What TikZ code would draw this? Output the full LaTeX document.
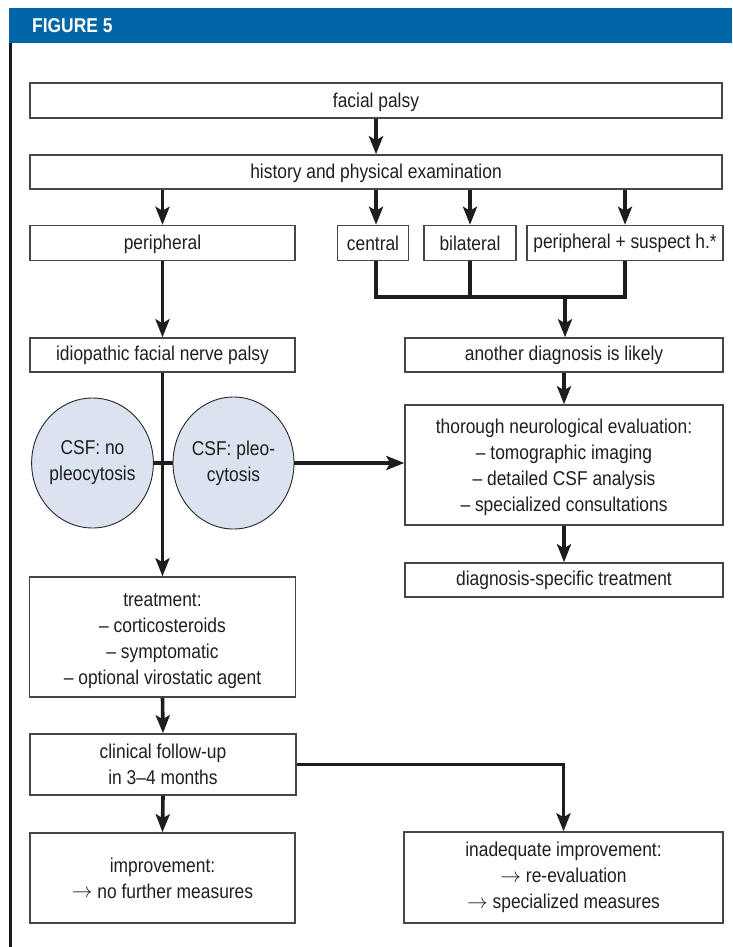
\documentclass[tikz,border=0pt]{standalone}
\usepackage{fontspec}
\usetikzlibrary{shapes.geometric,arrows.meta}
\newfontfamily\mainf[FakeStretch=0.87,Ligatures=TeX]{Liberation Sans}
\newfontfamily\mainfb[FakeStretch=0.87]{Liberation Sans Bold}
\definecolor{hdrblue}{RGB}{0,102,168}
\definecolor{ellfill}{RGB}{219,227,240}
\definecolor{linecol}{RGB}{30,28,30}
\newcommand{\rarr}{\raisebox{0.5pt}{$\rightarrow$}}
\newcommand{\mlines}[2][0pt]{\raisebox{#1}[\height][\depth]{\begin{tabular}{@{}c@{}}#2\end{tabular}}}
\begin{document}
\begin{tikzpicture}[x=1pt,y=-1pt,
  box/.style={draw=black!72,line width=1.5pt,inner sep=0pt,align=center,
    font=\mainf\fontsize{20}{26}\selectfont,text=black!88},
  ell/.style={ellipse,draw=black!85,line width=0.9pt,fill=ellfill,inner sep=0pt,align=center,
    font=\mainf\fontsize{20}{26}\selectfont,text=black!88},
  ln/.style={draw=linecol,line width=3.6pt,line join=miter},
  arr/.style={ln,-{Stealth[length=18pt,width=14pt,inset=4pt]}}]
\useasboundingbox (0,0) rectangle (732,947);
\fill[white] (0,0) rectangle (732,947);
% header
\fill[hdrblue] (9,8) rectangle (732,43);
\node[anchor=west,inner sep=0pt,text=white,font=\mainfb\fontsize{20}{24}\selectfont] (title) at (32,26) {FIGURE 5};
\draw[black!90,line width=2.6pt] (10.3,43) -- (10.3,947);
% boxes
\node[box,minimum width=692pt,minimum height=35pt] (fp) at (376,100.5) {\mlines[-1.5pt]{facial palsy}};
\node[box,minimum width=692pt,minimum height=34pt] (hist) at (376,172) {\mlines[-1pt]{history and physical examination}};
\node[box,minimum width=265pt,minimum height=35pt] (periph) at (162.5,243) {\mlines[-1pt]{peripheral}};
\node[box,minimum width=71pt,minimum height=35pt] (central) at (373,243) {central};
\node[box,minimum width=92pt,minimum height=35pt] (bilat) at (470,243) {bilateral};
\node[box,minimum width=196pt,minimum height=35pt] (periphs) at (625,243) {peripheral + suspect h.*};
\node[box,minimum width=265pt,minimum height=34pt] (idio) at (162.5,355) {idiopathic facial nerve palsy};
\node[box,minimum width=318pt,minimum height=34pt] (another) at (564,355) {another diagnosis is likely};
\node[box,minimum width=318pt,minimum height=120pt] (thor) at (564,465) {\mlines[-2.5pt]{thorough neurological evaluation:\\ -- tomographic imaging\\ -- detailed CSF analysis\\ -- specialized consultations}};
\node[box,minimum width=318pt,minimum height=34pt] (dspec) at (564,580) {diagnosis-specific treatment};
\node[ell,minimum width=121pt,minimum height=130pt] (nople) at (92.5,463) {CSF: no\\pleocytosis};
\node[ell,minimum width=121pt,minimum height=132pt] (pleo) at (233.5,463) {CSF: pleo-\\cytosis};
\node[box,minimum width=266pt,minimum height=120pt] (treat) at (162.5,637) {\mlines[-3pt]{treatment:\\ -- corticosteroids\\ -- symptomatic\\ -- optional virostatic agent}};
\node[box,minimum width=266pt,minimum height=61pt] (clin) at (163,764.5) {clinical follow-up\\ in 3--4 months};
\node[box,minimum width=265pt,minimum height=90pt] (impr) at (162.5,878) {improvement:\\ \rarr{} no further measures};
\node[box,minimum width=319pt,minimum height=91pt] (inad) at (563.5,877.5) {inadequate improvement:\\ \rarr{} re-evaluation\\ \rarr{} specialized measures};
% connectors
\draw[arr] (fp.south) -- (hist.north);
\draw[arr] (hist.south -| periph.north) -- (periph.north);
\draw[arr] ([xshift=3pt]central.north |- hist.south) -- ([xshift=3pt]central.north);
\draw[arr] (hist.south -| bilat.north) -- (bilat.north);
\draw[arr] (hist.south -| periphs.north) -- (periphs.north);
\coordinate (mj) at (565,297);
\draw[ln] ([xshift=3pt]central.south) |- (periphs.south |- mj) -- (periphs.south);
\draw[ln] (bilat.south) -- (bilat.south |- mj);
\draw[arr] ([yshift=-1.8pt]mj) -- (another.north -| mj);
\draw[arr] (periph.south) -- (idio.north);
\draw[arr] (idio.south) -- (treat.north -| idio.south);
\draw[ln] (nople.east) -- (pleo.west);
\draw[arr] (pleo.east) -- (pleo.east -| thor.west);
\draw[arr] (another.south) -- (thor.north);
\draw[arr] (thor.south) -- (dspec.north);
\draw[arr] (treat.south) -- (clin.north);
\draw[arr] (clin.south) -- (impr.north);
\draw[arr] (clin.east) -| (inad.north);
\end{tikzpicture}
\end{document}
